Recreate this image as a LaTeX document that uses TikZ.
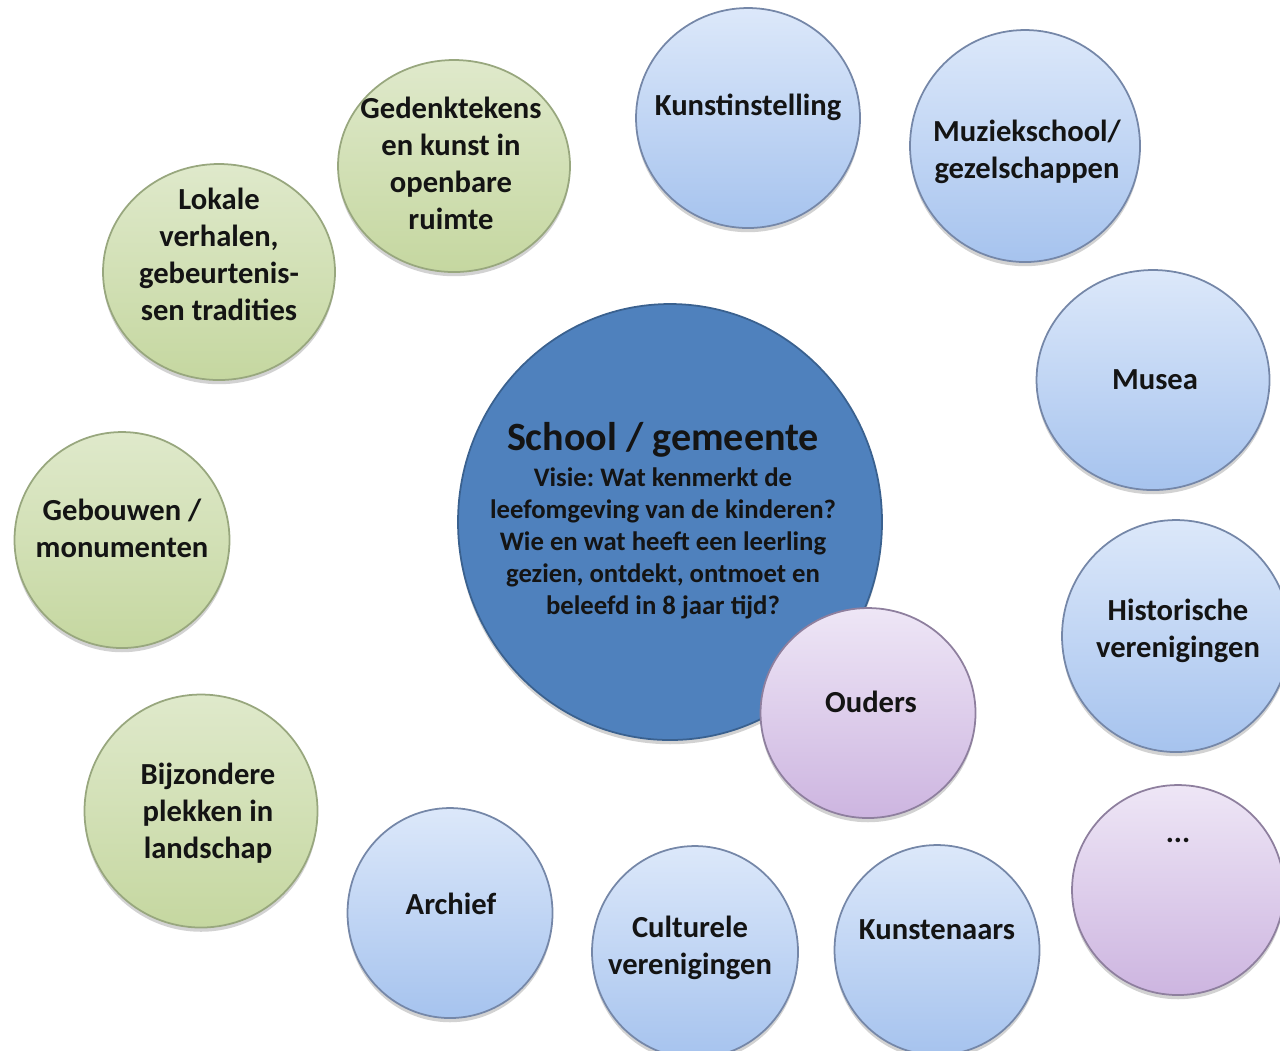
\documentclass[tikz,border=0pt]{standalone}
\usepackage{fontspec}
\setmainfont{Carlito}
\frenchspacing
\usetikzlibrary{shapes.geometric,shadows}
\definecolor{greenTop}{HTML}{DFE9CB}
\definecolor{greenBottom}{HTML}{C5D7A0}
\definecolor{greenLine}{HTML}{98A77E}
\definecolor{blueTop}{HTML}{DCE8FA}
\definecolor{blueBottom}{HTML}{A6C3EE}
\definecolor{blueLine}{HTML}{7587A8}
\definecolor{purpleTop}{HTML}{EEE6F6}
\definecolor{purpleBottom}{HTML}{CDB5E0}
\definecolor{purpleLine}{HTML}{8E7F9E}
\definecolor{hubFill}{HTML}{4F81BD}
\definecolor{hubLine}{HTML}{3A618F}
\definecolor{textDark}{HTML}{141414}
\newcommand{\pxUnit}{0.01cm}
\newcommand{\bubbleFont}{\fontsize{8.7}{10.5}\selectfont\bfseries}
\newcommand{\hubTitleFont}{\fontsize{11.4}{13}\selectfont\bfseries}
\newcommand{\hubTextFont}{\fontsize{7.6}{9.1}\selectfont\bfseries}

\tikzset{
  bubble/.style={ellipse, line width=0.5pt, inner sep=0pt,
    drop shadow={shadow xshift=0pt, shadow yshift=-1.2pt, opacity=.25, fill=black!70}},
  bubblesize/.style 2 args={minimum width=#1*\pxUnit, minimum height=#2*\pxUnit},
  greenbubble/.style={bubble, draw=greenLine, top color=greenTop, bottom color=greenBottom},
  bluebubble/.style={bubble, draw=blueLine, top color=blueTop, bottom color=blueBottom},
  purplebubble/.style={bubble, draw=purpleLine, top color=purpleTop, bottom color=purpleBottom},
  hubbubble/.style={bubble, draw=hubLine, fill=hubFill},
  bubbletext/.style={align=center, font=\bubbleFont, text=textDark, inner sep=0pt},
}

\begin{document}
\begin{tikzpicture}[x=\pxUnit, y=-\pxUnit]
\useasboundingbox (0,0) rectangle (1280,1050);

% centre: school / gemeente
\node[hubbubble, bubblesize={424}{436}] (hub) at (670,522) {};
\node[bubbletext, font=\hubTitleFont] (hubtitle) at (663,440) {School / gemeente};
\node[bubbletext, font=\hubTextFont] (hubtext) at (663,543)
  {Visie: Wat kenmerkt de\\leefomgeving van de kinderen?\\Wie en wat heeft een leerling\\gezien, ontdekt, ontmoet en\\beleefd in 8 jaar tijd?};

% green: omgeving
\node[greenbubble, bubblesize={232}{216}] (lokale) at (219,272) {};
\node[bubbletext] (lokale-txt) at (219,254) {Lokale\\verhalen,\\gebeurtenis-\\sen tradities};
\node[greenbubble, bubblesize={232}{212}] (gedenk) at (454,166) {};
\node[bubbletext] (gedenk-txt) at (451,163) {Gedenktekens\\en kunst in\\openbare\\ruimte};
\node[greenbubble, bubblesize={215}{216}] (gebouwen) at (122,540) {};
\node[bubbletext] (gebouwen-txt) at (122,528) {Gebouwen /\\monumenten};
\node[greenbubble, bubblesize={233}{233}] (plekken) at (201,811) {};
\node[bubbletext] (plekken-txt) at (208,813) {Bijzondere\\plekken in\\landschap};

% blue: instellingen
\node[bluebubble, bubblesize={224}{220}] (kunstinst) at (748,118) {};
\node[bubbletext] (kunstinst-txt) at (748,107) {Kunstinstelling};
\node[bluebubble, bubblesize={230}{232}] (muziek) at (1025,146) {};
\node[bubbletext] (muziek-txt) at (1027,152) {Muziekschool/\\gezelschappen};
\node[bluebubble, bubblesize={233}{220}] (musea) at (1153,380) {};
\node[bubbletext] (musea-txt) at (1155,380) {Musea};
\node[bluebubble, bubblesize={228}{232}] (historisch) at (1176,636) {};
\node[bubbletext] (historisch-txt) at (1178,631) {Historische\\verenigingen};
\node[bluebubble, bubblesize={205}{210}] (kunstenaars) at (937,950) {};
\node[bubbletext] (kunstenaars-txt) at (937,930) {Kunstenaars};
\node[bluebubble, bubblesize={206}{212}] (cultureel) at (695,952) {};
\node[bubbletext] (cultureel-txt) at (690,948) {Culturele\\verenigingen};
\node[bluebubble, bubblesize={205}{210}] (archief) at (450,913) {};
\node[bubbletext] (archief-txt) at (451,904) {Archief};

% purple: mensen
\node[purplebubble, bubblesize={212}{210}] (meer) at (1178,890) {};
\node[bubbletext] (meer-txt) at (1178,840) {...};
\node[purplebubble, bubblesize={215}{210}] (ouders) at (868,713) {};
\node[bubbletext] (ouders-txt) at (871,702) {Ouders};
\end{tikzpicture}
\end{document}
